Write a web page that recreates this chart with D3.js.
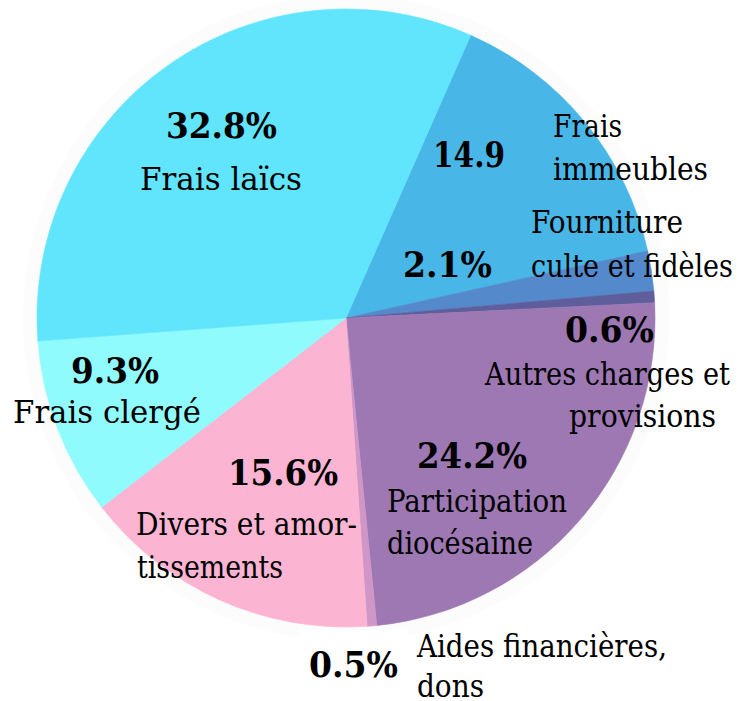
<!DOCTYPE html>
<html><head><meta charset="utf-8">
<script src="https://cdn.jsdelivr.net/npm/d3@7"></script>
<style>html,body{margin:0;padding:0;background:#fff;}svg{display:block;}</style>
</head><body>
<svg id="chart" width="750" height="701"></svg>
<script>
// Data
const categories = ["Frais immeubles","Fourniture culte et fidèles","Autres charges et provisions","Participation diocésaine","Aides financières, dons","Divers et amortissements","Frais clergé","Frais laïcs"];
const values = [14.9, 2.1, 0.6, 24.2, 0.5, 15.6, 9.3, 32.8];
const valueLabels = ["14.9","2.1%","0.6%","24.2%","0.5%","15.6%","9.3%","32.8%"];
const nameLines = [["Frais","immeubles"],["Fourniture","culte et fidèles"],["Autres charges et","provisions"],["Participation","diocésaine"],["Aides financières,","dons"],["Divers et amor-","tissements"],["Frais clergé"],["Frais laïcs"]];

// Styles / layout (not data)
const colors = ["#48B7E7","#5489CB","#5E5E9D","#9E78B3","#D096C8","#FBB5D3","#90FBFD","#60E5FD"];
const cx = 346, cy = 318, R = 309;
const startDeg = 23.8;
// value label: [x, baseline y, width]
const valuePos = [
  [433,167,72],[403,277,89],[565,342,89],[417,468,110],
  [309,677,89],[228,485,110],[71,383,88],[166,138,111]
];
// name lines: per category list of [x, baseline y, width]
const namePos = [
  [[553,137,69],[553,180,155]],
  [[531,233,152],[531,277,202]],
  [[485,385,245],[569,427,147]],
  [[387,512,180],[387,554,146]],
  [[417,657,250],[417,697,67]],
  [[136,535,221],[137,578,146]],
  [[13,423,188]],
  [[140,190,162]]
];

const svg = d3.select("#chart");
svg.append("circle").attr("cx",cx).attr("cy",cy).attr("r",R+14).attr("fill","#fcfcfc");

const pie = d3.pie().sort(null).value(d=>d)
  .startAngle(startDeg*Math.PI/180).endAngle((startDeg+360)*Math.PI/180);
const arc = d3.arc().innerRadius(0).outerRadius(R);
const arcs = pie(values);

const g = svg.append("g").attr("transform",`translate(${cx},${cy})`);
g.selectAll("path").data(arcs).join("path")
  .attr("d",arc)
  .attr("fill",(d,i)=>colors[i])
  .attr("stroke",(d,i)=>colors[i]).attr("stroke-width",0.6);

const font = "'DejaVu Serif',serif";
const fs = 32, fsb = 36;

svg.append("rect").attr("x",300).attr("y",630).attr("width",108).attr("height",71).attr("fill","#fff");

values.forEach((v,i)=>{
  const p = valuePos[i];
  svg.append("text").attr("x",p[0]).attr("y",p[1])
    .attr("textLength",p[2]).attr("lengthAdjust","spacingAndGlyphs")
    .attr("font-family",font).attr("font-weight","bold").attr("font-size",fsb)
    .attr("fill","#000").text(valueLabels[i]);
  nameLines[i].forEach((l,j)=>{
    const q = namePos[i][j];
    svg.append("text").attr("x",q[0]).attr("y",q[1])
      .attr("textLength",q[2]).attr("lengthAdjust","spacingAndGlyphs")
      .attr("font-family",font).attr("font-size",fs).attr("fill","#000").text(l);
  });
});
</script>
</body></html>
